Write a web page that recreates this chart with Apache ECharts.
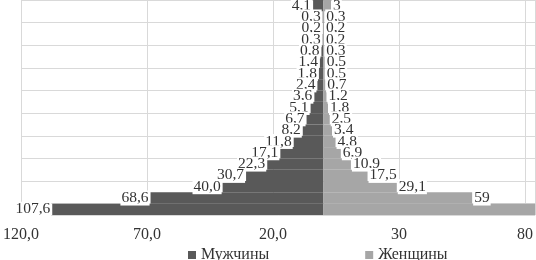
<!DOCTYPE html>
<html>
<head>
<meta charset="utf-8">
<script src="https://cdn.jsdelivr.net/npm/echarts@6/dist/echarts.min.js"></script>
<style>
  html, body { margin: 0; padding: 0; background: #fff; }
  #chart { width: 536px; height: 260px; }
</style>
</head>
<body>
<div id="chart"></div>
<script>
// пирамида: строки сверху вниз, подписи категорий на графике скрыты
const categories = ['н/д', '85+', '80–84', '75–79', '70–74', '65–69', '60–64', '55–59', '50–54',
  '45–49', '40–44', '35–39', '30–34', '25–29', '20–24', '15–19', '10–14', '5–9', '0–4'];
const menValues = [4.1, 0.3, 0.2, 0.3, 0.8, 1.4, 1.8, 2.4, 3.6, 5.1, 6.7, 8.2, 11.8, 17.1, 22.3, 30.7, 40.0, 68.6, 107.6];
// последняя строка у женщин уходит за край графика, подпись не видна — значение оценочное
const womenValues = [3, 0.3, 0.2, 0.2, 0.3, 0.5, 0.5, 0.7, 1.2, 1.8, 2.5, 3.4, 4.8, 6.9, 10.9, 17.5, 29.1, 59, 100];
const seriesNames = ['Мужчины', 'Женщины'];
const axisMin = -120;
const axisMax = 84;
const axisStep = 50;

const FONT = '"Liberation Serif", "Times New Roman", serif';
const TEXT = '#333';
const GRID = '#d9d9d9';
const MEN_COLOR = '#595959';
const WOMEN_COLOR = '#a6a6a6';

const comma = v => String(v).replace('.', ',');

function barLabel(position, formatter) {
  return {
    show: true,
    position,
    distance: 1,
    fontFamily: FONT,
    fontSize: 15.5,
    color: TEXT,
    backgroundColor: '#fff',
    padding: [0, 1, -1, 1],
    formatter,
  };
}

function getOption() {
  return {
    animation: false,
    grid: { left: 17, right: 0, top: 0, bottom: 45 },
    legend: {
      data: seriesNames,
      left: 183,
      top: 242,
      icon: 'rect',
      itemWidth: 8,
      itemHeight: 8,
      itemGap: 96,
      textStyle: { fontFamily: FONT, fontSize: 16, color: TEXT },
    },
    xAxis: {
      type: 'value',
      min: axisMin,
      max: axisMax,
      interval: axisStep,
      axisLine: { show: false },
      axisTick: { show: false },
      axisLabel: {
        showMaxLabel: false,
        margin: 12,
        fontFamily: FONT,
        fontSize: 16,
        color: TEXT,
        // слева — мужчины, модуль с одним знаком; справа — как в Excel, без дробной части
        formatter: v => (v < 0 ? comma(Math.abs(v).toFixed(1)) : comma(v)),
      },
      splitLine: { lineStyle: { color: GRID, width: 1 } },
    },
    yAxis: {
      type: 'category',
      data: categories,
      inverse: true,
      axisLine: { show: false },
      axisTick: { show: false },
      axisLabel: { show: false },
      splitLine: { show: true, lineStyle: { color: GRID, width: 1 } },
    },
    series: [
      {
        name: seriesNames[0],
        type: 'bar',
        barGap: '-100%',
        barCategoryGap: 0,
        color: MEN_COLOR,
        data: menValues.map(v => -v),
        label: barLabel('left', p => comma(Math.abs(p.value).toFixed(1))),
        z: 3,
      },
      {
        name: seriesNames[1],
        type: 'bar',
        barGap: '-100%',
        barCategoryGap: 0,
        color: WOMEN_COLOR,
        data: womenValues,
        label: barLabel('right', p => comma(p.value)),
        z: 3,
      },
    ],
  };
}

const chart = echarts.init(document.getElementById('chart'), null, { renderer: 'canvas' });
chart.setOption(getOption());
</script>
</body>
</html>
